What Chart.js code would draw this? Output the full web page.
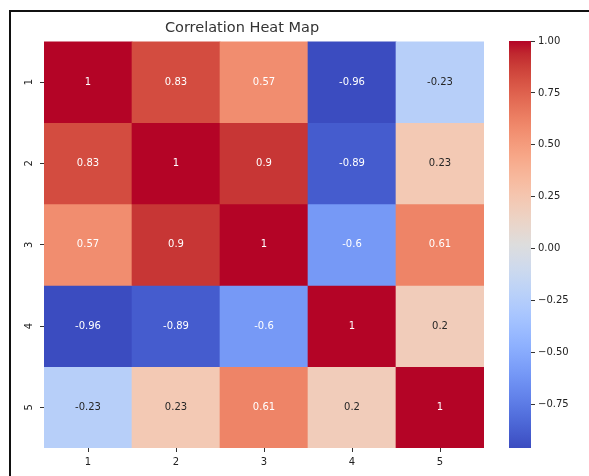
<!DOCTYPE html>
<html>
<head>
<meta charset="utf-8">
<script src="https://cdn.jsdelivr.net/npm/chart.js@4.4.1/dist/chart.umd.min.js"></script>
<style>
    html, body { margin: 0; padding: 0; background: #fff; }
    body { width: 589px; height: 476px; position: relative; overflow: hidden; }
    #frame { position: absolute; left: 9px; top: 10px; width: 620px; height: 480px; border: 2px solid #111; }
    #heat { position: absolute; left: 0; top: 0; }
    #bar { position: absolute; left: 504px; top: 29px; }
</style>
</head>
<body>
<div id="frame"></div>
<canvas id="heat" width="528" height="476"></canvas>
<canvas id="bar" width="84" height="440"></canvas>
<script>
// Data
const labels = ['1', '2', '3', '4', '5'];
const row1 = [1, 0.83, 0.57, -0.96, -0.23];
const row2 = [0.83, 1, 0.9, -0.89, 0.23];
const row3 = [0.57, 0.9, 1, -0.6, 0.61];
const row4 = [-0.96, -0.89, -0.6, 1, 0.2];
const row5 = [-0.23, 0.23, 0.61, 0.2, 1];
const rows = [row1, row2, row3, row4, row5];
const colorbarTicks = [-0.75, -0.5, -0.25, 0, 0.25, 0.5, 0.75, 1];

const vmin = Math.min(...rows.flat());
const vmax = Math.max(...rows.flat());

// coolwarm lookup (Moreland diverging map)
const coolwarm = [
    [59, 76, 192], [68, 90, 204], [77, 104, 215], [87, 117, 225],
    [98, 130, 234], [108, 142, 241], [119, 154, 247], [130, 165, 251],
    [141, 176, 254], [152, 185, 255], [163, 194, 255], [174, 201, 253],
    [184, 208, 249], [194, 213, 244], [204, 217, 238], [213, 219, 230],
    [221, 221, 221], [229, 216, 209], [236, 211, 197], [241, 204, 185],
    [245, 196, 173], [247, 187, 160], [247, 177, 148], [247, 166, 135],
    [244, 154, 123], [241, 141, 111], [236, 127, 99], [229, 112, 88],
    [222, 96, 77], [213, 80, 66], [203, 62, 56], [192, 40, 47], [180, 4, 38]
];

function cmap(t) {
    t = Math.max(0, Math.min(1, t));
    const pos = t * (coolwarm.length - 1);
    const i = Math.min(Math.floor(pos), coolwarm.length - 2);
    const f = pos - i;
    const a = coolwarm[i], b = coolwarm[i + 1];
    return a.map((v, k) => Math.round(v + (b[k] - v) * f));
}

function colorFor(v) {
    const c = cmap((v - vmin) / (vmax - vmin));
    return `rgb(${c[0]}, ${c[1]}, ${c[2]})`;
}

// same rule seaborn uses to pick the annotation colour
function textColorFor(v) {
    const c = cmap((v - vmin) / (vmax - vmin)).map(x => {
        x = x / 255;
        return x <= 0.03928 ? x / 12.92 : Math.pow((x + 0.055) / 1.055, 2.4);
    });
    const lum = 0.2126 * c[0] + 0.7152 * c[1] + 0.0722 * c[2];
    return lum > 0.408 ? '#262626' : '#ffffff';
}

const FONT = 'DejaVu Sans';

// Cell annotations
const annotate = {
    id: 'annotate',
    afterDatasetsDraw(chart) {
        const ctx = chart.ctx;
        const xs = chart.scales.x, ys = chart.scales.y;
        ctx.save();
        ctx.font = `10px "${FONT}"`;
        ctx.textAlign = 'center';
        ctx.textBaseline = 'middle';
        rows.forEach((row, r) => {
            row.forEach((v, c) => {
                ctx.fillStyle = textColorFor(v);
                ctx.fillText(String(v), xs.getPixelForValue(c), ys.getPixelForValue(r + 0.5));
            });
        });
        ctx.restore();
    }
};

new Chart(document.getElementById('heat'), {
    type: 'bar',
    data: {
        labels: labels,
        datasets: rows.map((row, r) => ({
            label: labels[r],
            data: row.map(() => [r, r + 1]),
            backgroundColor: row.map(colorFor),
            borderWidth: 0,
            grouped: false,
            barPercentage: 1,
            categoryPercentage: 1
        }))
    },
    options: {
        responsive: false,
        animation: false,
        // right padding mirrors the left axis so the title sits over the grid
        layout: { padding: { left: 0, right: 44, top: 0, bottom: 0 } },
        plugins: {
            legend: { display: false },
            tooltip: { enabled: false },
            title: {
                display: true,
                text: 'Correlation Heat Map',
                color: '#333',
                font: { family: FONT, size: 14.5, weight: 'normal' },
                padding: { top: 20, bottom: 4 }
            }
        },
        scales: {
            x: {
                grid: { drawOnChartArea: false, offset: false, tickLength: 4, color: '#333' },
                border: { display: false },
                ticks: { color: '#222', padding: 4, font: { family: FONT, size: 10 } },
                afterFit(scale) { scale.height = 28; }
            },
            y: {
                type: 'linear',
                min: 0,
                max: 5,
                reverse: true,
                afterBuildTicks(scale) {
                    scale.ticks = labels.map((l, i) => ({ value: i + 0.5 }));
                },
                grid: { drawOnChartArea: false, tickLength: 4, color: '#333' },
                border: { display: false },
                ticks: {
                    color: '#222',
                    padding: 7,
                    minRotation: 90,
                    maxRotation: 90,
                    crossAlign: 'center',
                    font: { family: FONT, size: 10 },
                    callback: (v) => labels[Math.floor(v)]
                },
                afterFit(scale) { scale.width = 44; }
            }
        }
    },
    plugins: [annotate]
});

// Colorbar
new Chart(document.getElementById('bar'), {
    type: 'bar',
    data: {
        labels: [''],
        datasets: [{
            data: [[vmin, vmax]],
            borderWidth: 0,
            barPercentage: 1,
            categoryPercentage: 1,
            backgroundColor(context) {
                const area = context.chart.chartArea;
                if (!area) return '#ddd';
                const g = context.chart.ctx.createLinearGradient(0, area.bottom, 0, area.top);
                coolwarm.forEach((c, i) => {
                    g.addColorStop(i / (coolwarm.length - 1), `rgb(${c[0]}, ${c[1]}, ${c[2]})`);
                });
                return g;
            }
        }]
    },
    options: {
        responsive: false,
        animation: false,
        layout: { padding: { left: 5, right: 0, top: 12, bottom: 21 } },
        plugins: { legend: { display: false }, tooltip: { enabled: false } },
        scales: {
            x: { display: false },
            y: {
                position: 'right',
                min: vmin,
                max: vmax,
                afterBuildTicks(scale) {
                    scale.ticks = colorbarTicks.map(v => ({ value: v }));
                },
                grid: { drawOnChartArea: false, tickLength: 4, color: '#333' },
                border: { display: false },
                ticks: {
                    color: '#222',
                    padding: 3,
                    font: { family: FONT, size: 10 },
                    callback: (v) => v.toFixed(2).replace('-', '\u2212')
                },
                afterFit(scale) { scale.width = 57; }
            }
        }
    }
});
</script>
</body>
</html>
